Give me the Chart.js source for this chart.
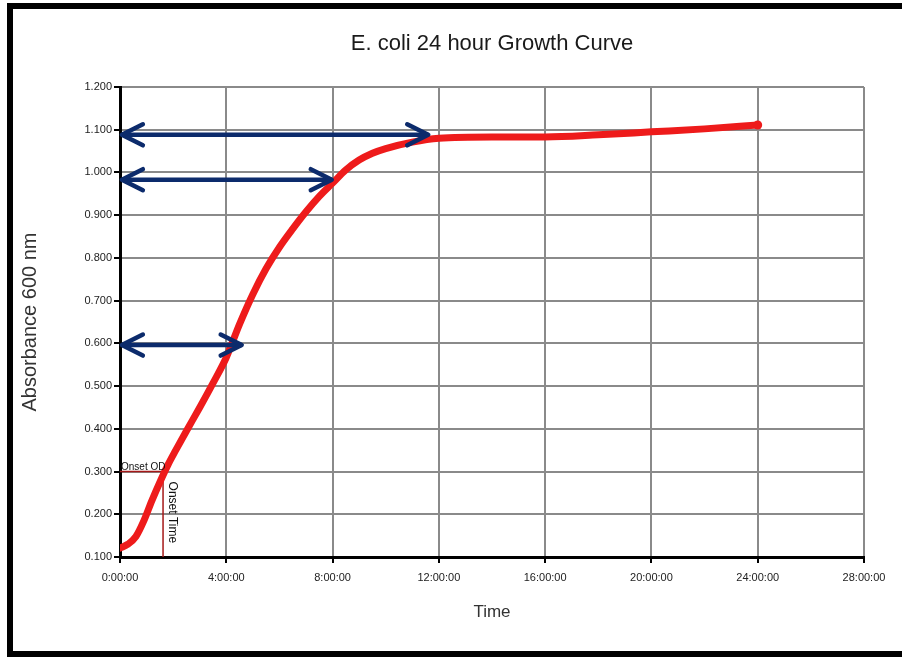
<!DOCTYPE html>
<html><head><meta charset="utf-8">
<script src="https://cdn.jsdelivr.net/npm/chart.js@4.4.0/dist/chart.umd.min.js"></script>
<style>
html,body{margin:0;padding:0;background:#fff;overflow:hidden;width:902px;height:657px;}
#frame{position:absolute;left:7px;top:3px;width:1000px;height:654px;border:6px solid #000;box-sizing:border-box;}
#c{position:absolute;left:0;top:0;}
</style></head><body>
<div id="frame"></div>
<canvas id="c" width="902" height="657"></canvas>
<script>
// Growth curve (time in hours, absorbance at 600 nm)
const timeHours = [0, 0.3, 0.6, 0.9, 1.2, 1.5, 1.8, 2.1, 2.5, 3.0, 3.5, 4.0, 4.5, 5.0, 5.5, 6.0, 6.5, 7.0, 7.5, 8.0, 8.5, 9.0, 9.5, 10, 11, 12, 14, 16, 18, 20, 22, 24];
const absorbance = [0.121, 0.130, 0.148, 0.185, 0.232, 0.275, 0.315, 0.350, 0.395, 0.450, 0.507, 0.567, 0.645, 0.715, 0.775, 0.825, 0.868, 0.908, 0.944, 0.975, 1.006, 1.029, 1.045, 1.056, 1.071, 1.080, 1.083, 1.083, 1.088, 1.095, 1.102, 1.111];

// Double-headed arrows (absorbance level, start hour, end hour)
const arrowLevels = [1.088, 0.983, 0.596];
const arrowStart = [0.07, 0.07, 0.07];
const arrowEnd = [11.6, 7.97, 4.58];

// Onset markers
const onsetTime = 1.62;
const onsetOD = 0.300;
const onsetLabels = ['Onset OD', 'Onset Time'];

// Axis ticks
const xTickHours = [0, 4, 8, 12, 16, 20, 24, 28];
const yMin = 0.1, yMax = 1.2, yStep = 0.1;

const titleText = 'E. coli 24 hour Growth Curve';
const xTitle = 'Time';
const yTitle = 'Absorbance 600 nm';

const RED = '#ee1b1b';
const NAVY = '#0c2b6c';
const DARKRED = '#a51818';
const FONT = "'Liberation Sans', Arial, sans-serif";

const datasets = [];
datasets.push({
  label: 'growth',
  data: timeHours.map((t, i) => ({x: t, y: absorbance[i]})),
  borderColor: RED,
  backgroundColor: RED,
  borderWidth: 7,
  pointRadius: timeHours.map((t, i) => i === timeHours.length - 1 ? 4.5 : 0),
  pointBorderWidth: 0,
  pointBackgroundColor: RED,
  tension: 0.4,
  cubicInterpolationMode: 'monotone',
  borderCapStyle: 'round',
  order: 1
});
arrowLevels.forEach((lvl, i) => {
  datasets.push({
    label: 'arrow' + i,
    data: [{x: arrowStart[i], y: lvl}, {x: arrowEnd[i], y: lvl}],
    borderColor: NAVY,
    borderWidth: 4.5,
    pointRadius: 0,
    order: 0
  });
});
datasets.push({
  label: 'onsetOD',
  data: [{x: 0, y: onsetOD}, {x: onsetTime, y: onsetOD}],
  borderColor: DARKRED, borderWidth: 1.5, pointRadius: 0, order: 2
});
datasets.push({
  label: 'onsetTime',
  data: [{x: onsetTime, y: yMin}, {x: onsetTime, y: 0.292}],
  borderColor: DARKRED, borderWidth: 1.5, pointRadius: 0, order: 2
});

const annot = {
  id: 'annot',
  afterDatasetsDraw(chart) {
    const ctx = chart.ctx, xs = chart.scales.x, ys = chart.scales.y;
    ctx.save();
    ctx.strokeStyle = NAVY; ctx.lineWidth = 4.5; ctx.lineCap = 'round'; ctx.lineJoin = 'round';
    arrowLevels.forEach((lvl, i) => {
      const y = ys.getPixelForValue(lvl);
      const x1 = xs.getPixelForValue(arrowStart[i]);
      const x2 = xs.getPixelForValue(arrowEnd[i]);
      ctx.beginPath();
      ctx.moveTo(x1 + 21, y - 10.5); ctx.lineTo(x1, y); ctx.lineTo(x1 + 21, y + 10.5);
      ctx.moveTo(x2 - 21, y - 10.5); ctx.lineTo(x2, y); ctx.lineTo(x2 - 21, y + 10.5);
      ctx.stroke();
    });
    ctx.fillStyle = '#111';
    ctx.font = '10px ' + FONT;
    ctx.textAlign = 'left'; ctx.textBaseline = 'alphabetic';
    ctx.fillText(onsetLabels[0], xs.getPixelForValue(0) + 1, ys.getPixelForValue(onsetOD) - 2);
    ctx.translate(xs.getPixelForValue(onsetTime) + 3, ys.getPixelForValue(onsetOD) + 10);
    ctx.rotate(Math.PI / 2);
    ctx.font = '12px ' + FONT;
    ctx.textBaseline = 'bottom';
    ctx.fillText(onsetLabels[1], 0, 0);
    ctx.restore();
  }
};

new Chart(document.getElementById('c'), {
  type: 'line',
  data: {datasets},
  plugins: [annot],
  options: {
    responsive: false,
    animation: false,
    devicePixelRatio: 1,
    layout: {padding: {left: 0, right: 38, top: 0, bottom: 0}},
    plugins: {
      legend: {display: false},
      tooltip: {enabled: false},
      title: {
        display: true, text: titleText, fullSize: false,
        color: '#1a1a1a', font: {family: FONT, size: 22, weight: 'normal', lineHeight: 1.2},
        padding: {top: 31, bottom: 29.6}
      }
    },
    scales: {
      x: {
        type: 'linear', min: 0, max: 28,
        afterFit(s) { s.height = 100; },
        afterBuildTicks(s) { s.ticks = xTickHours.map(v => ({value: v})); },
        ticks: {callback: v => v + ':00:00', color: '#222', font: {family: FONT, size: 11}, padding: 8, maxRotation: 0, autoSkip: false},
        grid: {color: '#8a8a8a', lineWidth: 2, tickColor: '#000', tickLength: 6},
        border: {color: '#000', width: 3},
        title: {display: true, text: xTitle, color: '#333', font: {family: FONT, size: 17}, padding: {top: 0, bottom: 34}}
      },
      y: {
        type: 'linear', min: yMin, max: yMax,
        afterFit(s) { s.width = 120; },
        ticks: {stepSize: yStep, callback: v => v.toFixed(3), color: '#222', font: {family: FONT, size: 11}, padding: 2},
        grid: {color: '#8a8a8a', lineWidth: 2, tickColor: '#000', tickLength: 6},
        border: {color: '#000', width: 3},
        title: {display: true, text: yTitle, color: '#333', font: {family: FONT, size: 20}, padding: {top: 18, bottom: 0}}
      }
    }
  }
});
</script>
</body></html>
